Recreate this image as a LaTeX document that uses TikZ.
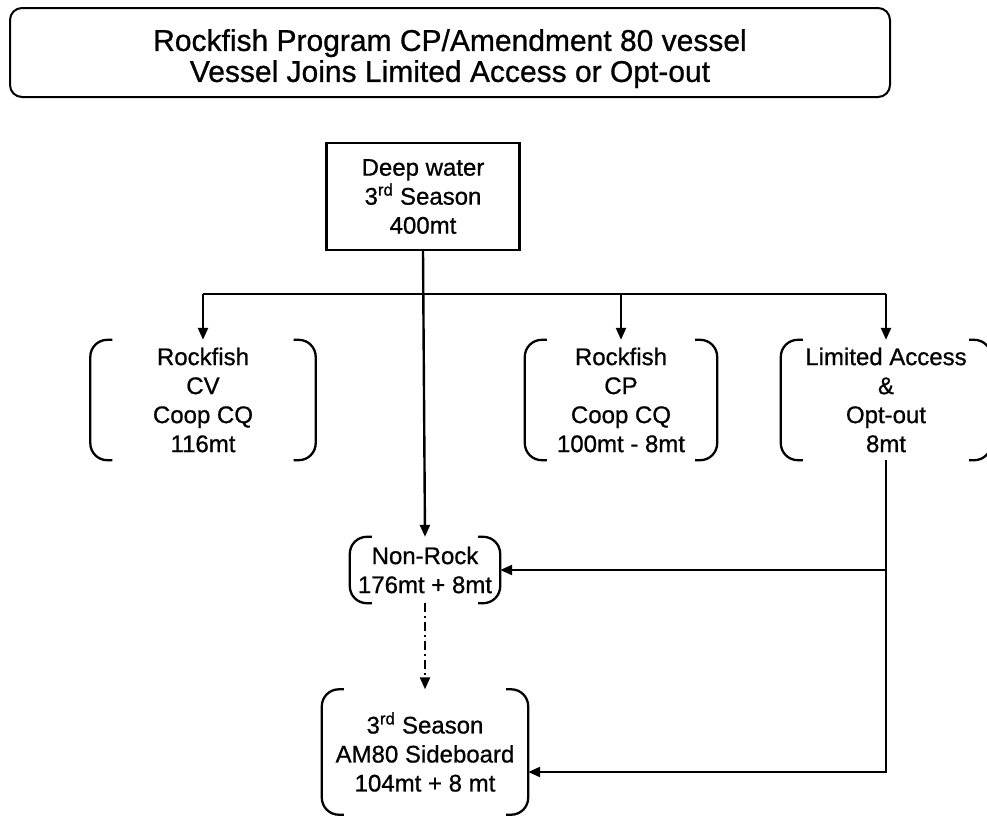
\documentclass[tikz,border=0pt]{standalone}
\usepackage{fontspec}
\setmainfont[FakeBold=0.8]{Liberation Sans}
\usetikzlibrary{arrows.meta}
\begin{document}
\begin{tikzpicture}[x=1pt,y=-1pt,
  every node/.style={font=\fontsize{24}{29}\selectfont, align=center, inner sep=0pt},
  titlebox/.style={draw, rounded corners=12pt, line width=2pt,
    minimum width=880pt, minimum height=89pt, font=\fontsize{30}{31}\selectfont},
  squarebox/.style={draw, line width=2.4pt, minimum width=193pt, minimum height=107pt},
  bracketbox/.style={minimum width=#1},
  bk/.style={line width=2.3pt, rounded corners=17pt},
  wire/.style={line width=2.4pt},
  arr/.style={line width=2.4pt, -{Triangle[length=12pt,width=10pt]}}]
\useasboundingbox (0,0) rectangle (987,817);

% boxes
\node[titlebox] (title) at (450,52.5)
  {\rule{0pt}{34pt}Rockfish Program CP/Amendment 80 vessel\\Vessel Joins Limited Access or Opt-out};
\node[squarebox] (deep) at (423,196.5) {Deep water\\3\textsuperscript{rd} Season\\400mt};

\node[bracketbox=225pt, minimum height=120pt] (cv) at (203,400) {Rockfish\\CV\\Coop CQ\\116mt};
\node[bracketbox=192pt, minimum height=120pt] (cp) at (621,400) {Rockfish\\CP\\Coop CQ\\100mt - 8mt};
\node[bracketbox=210pt, minimum height=120pt] (la) at (886,400) {Limited Access\\\&\\Opt-out\\8mt};
\node[bracketbox=150pt, minimum height=66pt] (nr) at (425,570) {Non-Rock\\176mt + 8mt};
\node[bracketbox=206pt, minimum height=125pt] (sb) at (425,752) {3\textsuperscript{rd} Season\\AM80 Sideboard\\104mt + 8 mt};

% bracket sides
\foreach \n in {cv,cp,la,nr,sb}{
  \draw[bk] ([xshift=22pt]\n.north west) -- (\n.north west) -- (\n.south west) -- ([xshift=22pt]\n.south west);
  \draw[bk] ([xshift=-22pt]\n.north east) -- (\n.north east) -- (\n.south east) -- ([xshift=-22pt]\n.south east);
}

% connectors
\coordinate (bus) at (423,294);
\draw[wire] (cv.north |- bus) -- (la.north |- bus);
\draw[arr] (cv.north |- bus) -- (cv.north);
\draw[arr] (cp.north |- bus) -- (cp.north);
\draw[arr] (la.north |- bus) -- (la.north);
\draw[arr] (deep.south) -- (nr.north);
\draw[arr] (la.south) |- ([yshift=-20pt]sb.east);
\draw[arr] (la.south |- nr.east) -- (nr.east);
\draw[arr, dash pattern=on 9pt off 4pt on 2pt off 4pt] (nr.south) -- (sb.north);
\end{tikzpicture}
\end{document}
